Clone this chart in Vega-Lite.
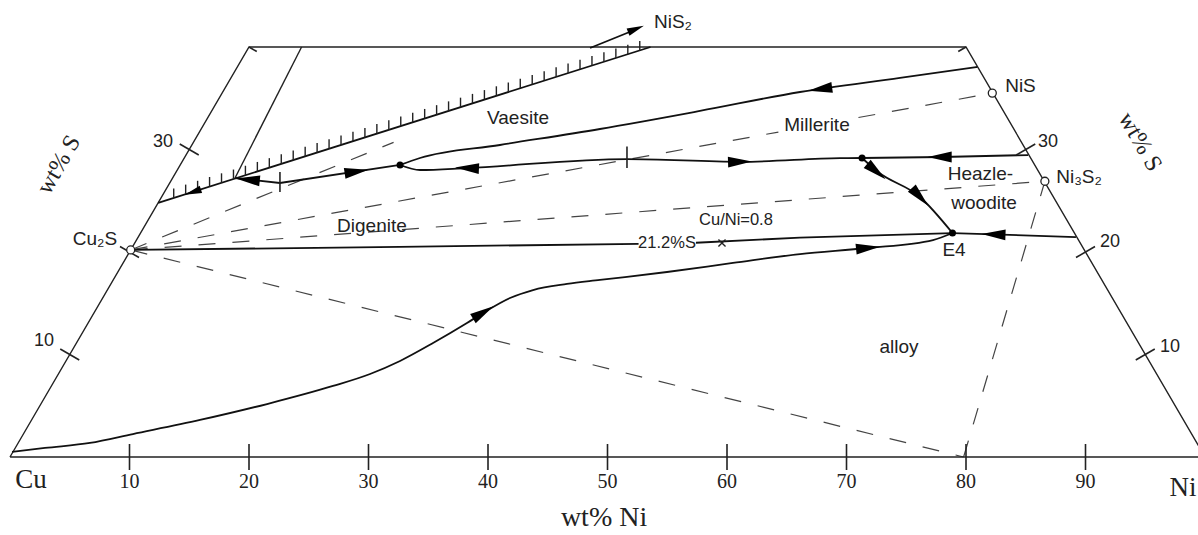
{
  "$schema": "https://vega.github.io/schema/vega-lite/v6.json",
  "width": 1198,
  "height": 535,
  "padding": 0,
  "autosize": {"type": "none"},
  "background": "white",
  "config": {"view": {"stroke": null}},
  "datasets": {
    "frame": [
      {"g": "frame", "o": 1, "x": 0, "y": 0},
      {"g": "frame", "o": 2, "x": 20, "y": 40},
      {"g": "frame", "o": 3, "x": 80, "y": 40},
      {"g": "frame", "o": 4, "x": 100, "y": 0},
      {"g": "frame", "o": 5, "x": 0, "y": 0},
      {"g": "vl", "o": 1, "x": 24.4, "y": 40},
      {"g": "vl", "o": 2, "x": 18.83, "y": 27.22}
    ],
    "bound": [
      {"g": "hatch", "o": 1, "x": 12.4, "y": 24.8},
      {"g": "hatch", "o": 2, "x": 53.6, "y": 40},
      {"g": "jcd", "o": 1, "x": 18.83, "y": 27.22},
      {"g": "jcd", "o": 2, "x": 22.59, "y": 26.73},
      {"g": "jcd", "o": 3, "x": 32.64, "y": 28.49},
      {"g": "ce1", "o": 1, "x": 10.1, "y": 20.2},
      {"g": "ce1", "o": 2, "x": 32.6, "y": 20.5},
      {"g": "ce1", "o": 3, "x": 52.6, "y": 20.8},
      {"g": "ce2", "o": 1, "x": 57.4, "y": 20.9},
      {"g": "ce2", "o": 2, "x": 66.1, "y": 21.4},
      {"g": "ce2", "o": 3, "x": 78.87, "y": 21.85},
      {"g": "er", "o": 1, "x": 78.87, "y": 21.85},
      {"g": "er", "o": 2, "x": 89.2, "y": 21.46},
      {"g": "rl", "o": 1, "x": 71.3, "y": 29.17},
      {"g": "rl", "o": 2, "x": 78.0, "y": 29.27},
      {"g": "rl", "o": 3, "x": 85.2, "y": 29.46},
      {"g": "nis2", "o": 1, "x": 48.54, "y": 39.9},
      {"g": "nis2", "o": 2, "x": 52.05, "y": 41.56}
    ],
    "curves": [
      {"g": "upper", "o": 1, "x": 32.64, "y": 28.49},
      {"g": "upper", "o": 2, "x": 34.31, "y": 29.17},
      {"g": "upper", "o": 3, "x": 41.0, "y": 30.44},
      {"g": "upper", "o": 4, "x": 49.37, "y": 32.0},
      {"g": "upper", "o": 5, "x": 57.74, "y": 33.76},
      {"g": "upper", "o": 6, "x": 66.11, "y": 35.61},
      {"g": "upper", "o": 7, "x": 74.48, "y": 36.98},
      {"g": "upper", "o": 8, "x": 80.95, "y": 38.05},
      {"g": "lower", "o": 1, "x": 32.64, "y": 28.49},
      {"g": "lower", "o": 2, "x": 34.31, "y": 28.0},
      {"g": "lower", "o": 3, "x": 38.24, "y": 28.19},
      {"g": "lower", "o": 4, "x": 51.63, "y": 29.07},
      {"g": "lower", "o": 5, "x": 61.09, "y": 28.8},
      {"g": "lower", "o": 6, "x": 69.46, "y": 29.15},
      {"g": "lower", "o": 7, "x": 71.3, "y": 29.17},
      {"g": "d2e4", "o": 1, "x": 71.3, "y": 29.17},
      {"g": "d2e4", "o": 2, "x": 72.64, "y": 27.8},
      {"g": "d2e4", "o": 3, "x": 76.15, "y": 25.37},
      {"g": "d2e4", "o": 4, "x": 78.87, "y": 21.85},
      {"g": "bc", "o": 1, "x": 0.17, "y": 0.49},
      {"g": "bc", "o": 2, "x": 2.93, "y": 0.88},
      {"g": "bc", "o": 3, "x": 6.69, "y": 1.37},
      {"g": "bc", "o": 4, "x": 10.29, "y": 2.24},
      {"g": "bc", "o": 5, "x": 15.9, "y": 3.61},
      {"g": "bc", "o": 6, "x": 21.51, "y": 5.17},
      {"g": "bc", "o": 7, "x": 27.03, "y": 6.93},
      {"g": "bc", "o": 8, "x": 30.13, "y": 8.1},
      {"g": "bc", "o": 9, "x": 32.64, "y": 9.37},
      {"g": "bc", "o": 10, "x": 35.4, "y": 11.12},
      {"g": "bc", "o": 11, "x": 38.24, "y": 13.07},
      {"g": "bc", "o": 12, "x": 39.58, "y": 14.05},
      {"g": "bc", "o": 13, "x": 41.84, "y": 15.51},
      {"g": "bc", "o": 14, "x": 43.77, "y": 16.29},
      {"g": "bc", "o": 15, "x": 46.61, "y": 16.88},
      {"g": "bc", "o": 16, "x": 49.37, "y": 17.27},
      {"g": "bc", "o": 17, "x": 54.98, "y": 18.05},
      {"g": "bc", "o": 18, "x": 60.5, "y": 18.93},
      {"g": "bc", "o": 19, "x": 66.11, "y": 19.8},
      {"g": "bc", "o": 20, "x": 71.72, "y": 20.39},
      {"g": "bc", "o": 21, "x": 77.24, "y": 21.17},
      {"g": "bc", "o": 22, "x": 78.87, "y": 21.85}
    ],
    "ties": [
      {"g": "t1a", "o": 1, "x": 10.1, "y": 20.2},
      {"g": "t1a", "o": 2, "x": 64.3, "y": 31.7},
      {"g": "t1b", "o": 1, "x": 71.0, "y": 33.12},
      {"g": "t1b", "o": 2, "x": 82.2, "y": 35.5},
      {"g": "t2", "o": 1, "x": 10.1, "y": 20.2},
      {"g": "t2", "o": 2, "x": 32.1, "y": 30.7},
      {"g": "t3", "o": 1, "x": 10.1, "y": 20.2},
      {"g": "t3", "o": 2, "x": 86.6, "y": 26.9},
      {"g": "t4", "o": 1, "x": 10.1, "y": 20.2},
      {"g": "t4", "o": 2, "x": 79.8, "y": 0},
      {"g": "t5", "o": 1, "x": 79.8, "y": 0},
      {"g": "t5", "o": 2, "x": 86.6, "y": 26.9}
    ],
    "ticks": [
      {"x": 10, "y": -1.27, "x2": 10, "y2": 1.27},
      {"x": 20, "y": -1.27, "x2": 20, "y2": 1.27},
      {"x": 30, "y": -1.27, "x2": 30, "y2": 1.27},
      {"x": 40, "y": -1.27, "x2": 40, "y2": 1.27},
      {"x": 50, "y": -1.27, "x2": 50, "y2": 1.27},
      {"x": 60, "y": -1.27, "x2": 60, "y2": 1.27},
      {"x": 70, "y": -1.27, "x2": 70, "y2": 1.27},
      {"x": 80, "y": -1.27, "x2": 80, "y2": 1.27},
      {"x": 90, "y": -1.27, "x2": 90, "y2": 1.27},
      {"x": 4.205, "y": 10.541, "x2": 5.795, "y2": 9.459},
      {"x": 9.205, "y": 20.541, "x2": 10.795, "y2": 19.459},
      {"x": 14.205, "y": 30.541, "x2": 15.795, "y2": 29.459},
      {"x": 20, "y": 40, "x2": 20.65, "y2": 39.56},
      {"x": 94.205, "y": 9.459, "x2": 95.795, "y2": 10.541},
      {"x": 89.205, "y": 19.459, "x2": 90.795, "y2": 20.541},
      {"x": 84.205, "y": 29.459, "x2": 85.795, "y2": 30.541},
      {"x": 80, "y": 40, "x2": 79.35, "y2": 39.56},
      {"x": 22.59, "y": 25.85, "x2": 22.59, "y2": 27.8},
      {"x": 51.63, "y": 28.2, "x2": 51.63, "y2": 30.3}
    ],
    "hatches": [
      {"x": 13.7, "y": 25.28}, {"x": 14.7, "y": 25.65}, {"x": 15.7, "y": 26.02},
      {"x": 16.7, "y": 26.39}, {"x": 17.7, "y": 26.75}, {"x": 18.7, "y": 27.12},
      {"x": 19.7, "y": 27.49}, {"x": 20.7, "y": 27.86}, {"x": 21.7, "y": 28.23},
      {"x": 22.7, "y": 28.6}, {"x": 23.7, "y": 28.97}, {"x": 24.7, "y": 29.34},
      {"x": 25.7, "y": 29.71}, {"x": 26.7, "y": 30.08}, {"x": 27.7, "y": 30.44},
      {"x": 28.7, "y": 30.81}, {"x": 29.7, "y": 31.18}, {"x": 30.7, "y": 31.55},
      {"x": 31.7, "y": 31.92}, {"x": 32.7, "y": 32.29}, {"x": 33.7, "y": 32.66},
      {"x": 34.7, "y": 33.03}, {"x": 35.7, "y": 33.4}, {"x": 36.7, "y": 33.77},
      {"x": 37.7, "y": 34.13}, {"x": 38.7, "y": 34.5}, {"x": 39.7, "y": 34.87},
      {"x": 40.7, "y": 35.24}, {"x": 41.7, "y": 35.61}, {"x": 42.7, "y": 35.98},
      {"x": 43.7, "y": 36.35}, {"x": 44.7, "y": 36.72}, {"x": 45.7, "y": 37.1},
      {"x": 46.7, "y": 37.46}, {"x": 47.7, "y": 37.82}, {"x": 48.7, "y": 38.19},
      {"x": 49.7, "y": 38.56}, {"x": 50.7, "y": 38.93}, {"x": 51.7, "y": 39.3},
      {"x": 52.7, "y": 39.67}
    ],
    "arrows": [
      {"x": 19.9, "y": 27.05, "dir": 186},
      {"x": 29.0, "y": 27.85, "dir": -8.5},
      {"x": 38.24, "y": 28.19, "dir": 182.6},
      {"x": 61.09, "y": 28.8, "dir": -1.9},
      {"x": 67.8, "y": 35.89, "dir": 172},
      {"x": 77.8, "y": 29.27, "dir": 180},
      {"x": 72.5, "y": 27.85, "dir": 40},
      {"x": 76.15, "y": 25.37, "dir": 47},
      {"x": 82.3, "y": 21.72, "dir": 182},
      {"x": 71.8, "y": 20.4, "dir": -6},
      {"x": 39.6, "y": 14.1, "dir": -31}
    ],
    "arrows_small": [
      {"x": 15.3, "y": 25.85, "dir": 161.6},
      {"x": 52.38, "y": 41.76, "dir": -21.8}
    ],
    "dots": [
      {"x": 32.64, "y": 28.49},
      {"x": 71.3, "y": 29.17},
      {"x": 78.87, "y": 21.85}
    ],
    "circles": [
      {"x": 10.1, "y": 20.2},
      {"x": 82.2, "y": 35.5},
      {"x": 86.6, "y": 26.9}
    ],
    "xmark": [{"x": 59.58, "y": 20.88}],
    "labels": [
      {"t": "Vaesite", "x": 42.51, "y": 33.07},
      {"t": "Millerite", "x": 67.53, "y": 32.39},
      {"t": "Heazle-", "x": 81.21, "y": 27.61},
      {"t": "woodite", "x": 81.51, "y": 24.78},
      {"t": "Digenite", "x": 30.29, "y": 22.54},
      {"t": "alloy", "x": 74.39, "y": 10.73},
      {"t": "E4", "x": 79.0, "y": 20.2},
      {"t": "NiS", "x": 84.56, "y": 36.2},
      {"t": "Ni₃S₂", "x": 89.46, "y": 27.32},
      {"t": "Cu₂S", "x": 7.11, "y": 21.27},
      {"t": "NiS₂", "x": 55.48, "y": 42.44}
    ],
    "small_labels": [
      {"t": "Cu/Ni=0.8", "x": 60.75, "y": 23.12},
      {"t": "21.2%S", "x": 54.98, "y": 20.88}
    ],
    "edge_nums": [
      {"t": "30", "x": 12.8, "y": 30.73},
      {"t": "10", "x": 2.85, "y": 11.32},
      {"t": "30", "x": 86.86, "y": 30.73},
      {"t": "20", "x": 92.05, "y": 20.98},
      {"t": "10", "x": 97.07, "y": 10.73}
    ],
    "bottom_nums": [
      {"t": "10", "x": 10, "y": -2.44},
      {"t": "20", "x": 20, "y": -2.44},
      {"t": "30", "x": 30, "y": -2.44},
      {"t": "40", "x": 40, "y": -2.44},
      {"t": "50", "x": 50, "y": -2.44},
      {"t": "60", "x": 60, "y": -2.44},
      {"t": "70", "x": 70, "y": -2.44},
      {"t": "80", "x": 80, "y": -2.44},
      {"t": "90", "x": 90, "y": -2.44}
    ],
    "elements": [
      {"t": "Cu", "x": 1.76, "y": -2.24},
      {"t": "Ni", "x": 98.16, "y": -3.02}
    ],
    "xtitle": [{"t": "wt% Ni", "x": 49.71, "y": -5.95}],
    "stitle": [
      {"t": "wt% S", "x": 4.1, "y": 28.5, "dir": -60},
      {"t": "wt% S", "x": 94.56, "y": 30.73, "dir": 60}
    ]
  },
  "encoding": {
    "x": {"field": "x", "type": "quantitative", "scale": {"domain": [-0.837, 99.414], "nice": false, "zero": false}, "axis": null},
    "y": {"field": "y", "type": "quantitative", "scale": {"domain": [-7.61, 44.585], "nice": false, "zero": false}, "axis": null}
  },
  "layer": [
    {
      "data": {"name": "ties"},
      "mark": {"type": "line", "color": "#444", "strokeWidth": 1.2, "strokeDash": [17, 17], "clip": true},
      "encoding": {"detail": {"field": "g", "type": "nominal"}, "order": {"field": "o", "type": "quantitative"}}
    },
    {
      "data": {"name": "frame"},
      "mark": {"type": "line", "color": "#222", "strokeWidth": 1.4, "clip": true},
      "encoding": {"detail": {"field": "g", "type": "nominal"}, "order": {"field": "o", "type": "quantitative"}}
    },
    {
      "data": {"name": "bound"},
      "mark": {"type": "line", "color": "#111", "strokeWidth": 1.8, "clip": true},
      "encoding": {"detail": {"field": "g", "type": "nominal"}, "order": {"field": "o", "type": "quantitative"}}
    },
    {
      "data": {"name": "curves"},
      "mark": {"type": "line", "color": "#111", "strokeWidth": 1.8, "interpolate": "monotone", "clip": true},
      "encoding": {"detail": {"field": "g", "type": "nominal"}, "order": {"field": "o", "type": "quantitative"}}
    },
    {
      "data": {"name": "ticks"},
      "mark": {"type": "rule", "color": "#222", "strokeWidth": 1.6},
      "encoding": {"x2": {"field": "x2"}, "y2": {"field": "y2"}}
    },
    {
      "data": {"name": "hatches"},
      "mark": {"type": "point", "shape": "M0,0L0,-2", "size": 90, "filled": false, "color": "#222", "strokeWidth": 1.4, "opacity": 1}
    },
    {
      "data": {"name": "arrows"},
      "mark": {"type": "point", "shape": "M1,0L-1,-0.45L-1,0.45Z", "size": 576, "filled": true, "color": "#000", "opacity": 1},
      "encoding": {"angle": {"field": "dir", "type": "quantitative", "scale": null}}
    },
    {
      "data": {"name": "arrows_small"},
      "mark": {"type": "point", "shape": "M1,0L-1,-0.45L-1,0.45Z", "size": 289, "filled": true, "color": "#000", "opacity": 1},
      "encoding": {"angle": {"field": "dir", "type": "quantitative", "scale": null}}
    },
    {
      "data": {"name": "dots"},
      "mark": {"type": "point", "shape": "circle", "size": 49, "filled": true, "color": "#000", "opacity": 1}
    },
    {
      "data": {"name": "circles"},
      "mark": {"type": "point", "shape": "circle", "size": 64, "filled": true, "fill": "white", "stroke": "#222", "strokeWidth": 1.3, "opacity": 1}
    },
    {
      "data": {"name": "xmark"},
      "mark": {"type": "point", "shape": "M-1,-1L1,1M1,-1L-1,1", "size": 50, "filled": false, "color": "#222", "strokeWidth": 1.4, "opacity": 1}
    },
    {
      "data": {"name": "labels"},
      "mark": {"type": "text", "font": "Liberation Sans, DejaVu Sans", "fontSize": 19, "color": "#222", "align": "center", "baseline": "middle"},
      "encoding": {"text": {"field": "t"}}
    },
    {
      "data": {"name": "small_labels"},
      "mark": {"type": "text", "font": "Liberation Sans, DejaVu Sans", "fontSize": 16.5, "color": "#222", "align": "center", "baseline": "middle"},
      "encoding": {"text": {"field": "t"}}
    },
    {
      "data": {"name": "edge_nums"},
      "mark": {"type": "text", "font": "Liberation Sans, DejaVu Sans", "fontSize": 18, "color": "#222", "align": "center", "baseline": "middle"},
      "encoding": {"text": {"field": "t"}}
    },
    {
      "data": {"name": "bottom_nums"},
      "mark": {"type": "text", "font": "Liberation Serif, DejaVu Serif", "fontSize": 20, "color": "#222", "align": "center", "baseline": "middle"},
      "encoding": {"text": {"field": "t"}}
    },
    {
      "data": {"name": "elements"},
      "mark": {"type": "text", "font": "Liberation Serif, DejaVu Serif", "fontSize": 27, "color": "#222", "align": "center", "baseline": "middle"},
      "encoding": {"text": {"field": "t"}}
    },
    {
      "data": {"name": "xtitle"},
      "mark": {"type": "text", "font": "Liberation Serif, DejaVu Serif", "fontSize": 28, "color": "#222", "align": "center", "baseline": "middle"},
      "encoding": {"text": {"field": "t"}}
    },
    {
      "data": {"name": "stitle"},
      "mark": {"type": "text", "font": "Liberation Serif, DejaVu Serif", "fontSize": 24, "color": "#222", "align": "center", "baseline": "middle"},
      "encoding": {"text": {"field": "t"}, "angle": {"field": "dir", "type": "quantitative", "scale": null}}
    }
  ]
}
